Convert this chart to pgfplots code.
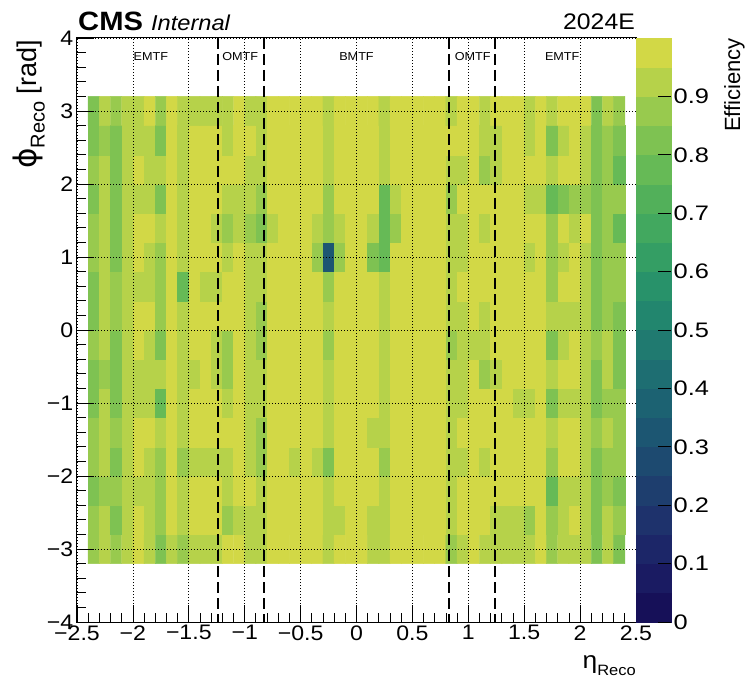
\documentclass[border=0pt]{standalone}
\usepackage{fontspec}
\setmainfont{Liberation Sans}
\newfontfamily\dejavu{DejaVu Sans}
\usepackage{pgfplots}
\usepackage{pgfplotstable}
\pgfplotsset{compat=1.18}

% ROOT-like viridis palette, 20 contour levels of 0.05
\pgfplotsset{colormap={rootvir}{
  rgb255=(22,16,88) rgb255=(26,27,98) rgb255=(28,38,104) rgb255=(30,50,108)
  rgb255=(30,62,110) rgb255=(29,74,112) rgb255=(28,86,114) rgb255=(28,98,114)
  rgb255=(30,110,114) rgb255=(32,122,112) rgb255=(34,134,110) rgb255=(40,146,106)
  rgb255=(52,158,100) rgb255=(66,168,95) rgb255=(82,176,90) rgb255=(102,186,86)
  rgb255=(126,194,82) rgb255=(152,202,78) rgb255=(182,210,74) rgb255=(210,216,70)}}

% efficiency per (eta, phi) bin, bin centres
\pgfplotstableread[row sep=\\]{
x y z\\
-2.35 -3 0.87\\-2.25 -3 0.92\\-2.15 -3 0.87\\-2.05 -3 0.92\\-1.95 -3 0.97\\-1.85 -3 0.92\\-1.75 -3 0.82\\-1.65 -3 0.92\\
-1.55 -3 0.87\\-1.45 -3 0.92\\-1.35 -3 0.92\\-1.25 -3 0.92\\-1.15 -3 0.97\\-1.05 -3 0.97\\-0.95 -3 0.92\\-0.85 -3 0.92\\
-0.75 -3 0.97\\-0.65 -3 0.97\\-0.55 -3 0.97\\-0.45 -3 0.97\\-0.35 -3 0.97\\-0.25 -3 0.92\\-0.15 -3 0.97\\-0.05 -3 0.97\\
0.05 -3 0.97\\0.15 -3 0.92\\0.25 -3 0.92\\0.35 -3 0.97\\0.45 -3 0.97\\0.55 -3 0.97\\0.65 -3 0.97\\0.75 -3 0.97\\
0.85 -3 0.87\\0.95 -3 0.92\\1.05 -3 0.97\\1.15 -3 0.92\\1.25 -3 0.92\\1.35 -3 0.92\\1.45 -3 0.92\\1.55 -3 0.92\\
1.65 -3 0.97\\1.75 -3 0.87\\1.85 -3 0.92\\1.95 -3 0.92\\2.05 -3 0.92\\2.15 -3 0.82\\2.25 -3 0.92\\2.35 -3 0.82\\
-2.35 -2.6 0.87\\-2.25 -2.6 0.92\\-2.15 -2.6 0.82\\-2.05 -2.6 0.92\\-1.95 -2.6 0.97\\-1.85 -2.6 0.92\\-1.75 -2.6 0.87\\-1.65 -2.6 0.97\\
-1.55 -2.6 0.92\\-1.45 -2.6 0.97\\-1.35 -2.6 0.97\\-1.25 -2.6 0.97\\-1.15 -2.6 0.87\\-1.05 -2.6 0.92\\-0.95 -2.6 0.92\\-0.85 -2.6 0.92\\
-0.75 -2.6 0.97\\-0.65 -2.6 0.97\\-0.55 -2.6 0.97\\-0.45 -2.6 0.97\\-0.35 -2.6 0.97\\-0.25 -2.6 0.92\\-0.15 -2.6 0.92\\-0.05 -2.6 0.97\\
0.05 -2.6 0.97\\0.15 -2.6 0.92\\0.25 -2.6 0.92\\0.35 -2.6 0.97\\0.45 -2.6 0.97\\0.55 -2.6 0.97\\0.65 -2.6 0.97\\0.75 -2.6 0.97\\
0.85 -2.6 0.92\\0.95 -2.6 0.97\\1.05 -2.6 0.97\\1.15 -2.6 0.97\\1.25 -2.6 0.92\\1.35 -2.6 0.92\\1.45 -2.6 0.92\\1.55 -2.6 0.87\\
1.65 -2.6 0.97\\1.75 -2.6 0.87\\1.85 -2.6 0.92\\1.95 -2.6 0.97\\2.05 -2.6 0.92\\2.15 -2.6 0.82\\2.25 -2.6 0.92\\2.35 -2.6 0.87\\
-2.35 -2.2 0.82\\-2.25 -2.2 0.87\\-2.15 -2.2 0.87\\-2.05 -2.2 0.92\\-1.95 -2.2 0.92\\-1.85 -2.2 0.92\\-1.75 -2.2 0.87\\-1.65 -2.2 0.97\\
-1.55 -2.2 0.92\\-1.45 -2.2 0.97\\-1.35 -2.2 0.97\\-1.25 -2.2 0.97\\-1.15 -2.2 0.92\\-1.05 -2.2 0.97\\-0.95 -2.2 0.97\\-0.85 -2.2 0.92\\
-0.75 -2.2 0.97\\-0.65 -2.2 0.97\\-0.55 -2.2 0.97\\-0.45 -2.2 0.97\\-0.35 -2.2 0.97\\-0.25 -2.2 0.92\\-0.15 -2.2 0.97\\-0.05 -2.2 0.97\\
0.05 -2.2 0.97\\0.15 -2.2 0.97\\0.25 -2.2 0.92\\0.35 -2.2 0.97\\0.45 -2.2 0.97\\0.55 -2.2 0.97\\0.65 -2.2 0.97\\0.75 -2.2 0.97\\
0.85 -2.2 0.92\\0.95 -2.2 0.97\\1.05 -2.2 0.97\\1.15 -2.2 0.97\\1.25 -2.2 0.97\\1.35 -2.2 0.97\\1.45 -2.2 0.97\\1.55 -2.2 0.97\\
1.65 -2.2 0.97\\1.75 -2.2 0.77\\1.85 -2.2 0.92\\1.95 -2.2 0.92\\2.05 -2.2 0.92\\2.15 -2.2 0.82\\2.25 -2.2 0.87\\2.35 -2.2 0.82\\
-2.35 -1.8 0.87\\-2.25 -1.8 0.92\\-2.15 -1.8 0.82\\-2.05 -1.8 0.92\\-1.95 -1.8 0.97\\-1.85 -1.8 0.92\\-1.75 -1.8 0.87\\-1.65 -1.8 0.97\\
-1.55 -1.8 0.87\\-1.45 -1.8 0.92\\-1.35 -1.8 0.92\\-1.25 -1.8 0.92\\-1.15 -1.8 0.92\\-1.05 -1.8 0.97\\-0.95 -1.8 0.92\\-0.85 -1.8 0.87\\
-0.75 -1.8 0.97\\-0.65 -1.8 0.97\\-0.55 -1.8 0.92\\-0.45 -1.8 0.97\\-0.35 -1.8 0.92\\-0.25 -1.8 0.82\\-0.15 -1.8 0.97\\-0.05 -1.8 0.97\\
0.05 -1.8 0.97\\0.15 -1.8 0.97\\0.25 -1.8 0.87\\0.35 -1.8 0.97\\0.45 -1.8 0.97\\0.55 -1.8 0.97\\0.65 -1.8 0.97\\0.75 -1.8 0.97\\
0.85 -1.8 0.92\\0.95 -1.8 0.92\\1.05 -1.8 0.97\\1.15 -1.8 0.92\\1.25 -1.8 0.97\\1.35 -1.8 0.97\\1.45 -1.8 0.97\\1.55 -1.8 0.97\\
1.65 -1.8 0.97\\1.75 -1.8 0.87\\1.85 -1.8 0.97\\1.95 -1.8 0.97\\2.05 -1.8 0.92\\2.15 -1.8 0.82\\2.25 -1.8 0.87\\2.35 -1.8 0.87\\
-2.35 -1.4 0.87\\-2.25 -1.4 0.92\\-2.15 -1.4 0.87\\-2.05 -1.4 0.92\\-1.95 -1.4 0.97\\-1.85 -1.4 0.97\\-1.75 -1.4 0.92\\-1.65 -1.4 0.97\\
-1.55 -1.4 0.92\\-1.45 -1.4 0.97\\-1.35 -1.4 0.97\\-1.25 -1.4 0.97\\-1.15 -1.4 0.97\\-1.05 -1.4 0.97\\-0.95 -1.4 0.92\\-0.85 -1.4 0.87\\
-0.75 -1.4 0.97\\-0.65 -1.4 0.97\\-0.55 -1.4 0.97\\-0.45 -1.4 0.97\\-0.35 -1.4 0.97\\-0.25 -1.4 0.92\\-0.15 -1.4 0.97\\-0.05 -1.4 0.97\\
0.05 -1.4 0.97\\0.15 -1.4 0.92\\0.25 -1.4 0.92\\0.35 -1.4 0.97\\0.45 -1.4 0.97\\0.55 -1.4 0.97\\0.65 -1.4 0.97\\0.75 -1.4 0.97\\
0.85 -1.4 0.92\\0.95 -1.4 0.97\\1.05 -1.4 0.97\\1.15 -1.4 0.97\\1.25 -1.4 0.97\\1.35 -1.4 0.97\\1.45 -1.4 0.97\\1.55 -1.4 0.97\\
1.65 -1.4 0.97\\1.75 -1.4 0.92\\1.85 -1.4 0.97\\1.95 -1.4 0.97\\2.05 -1.4 0.92\\2.15 -1.4 0.87\\2.25 -1.4 0.92\\2.35 -1.4 0.87\\
-2.35 -1 0.82\\-2.25 -1 0.92\\-2.15 -1 0.82\\-2.05 -1 0.92\\-1.95 -1 0.92\\-1.85 -1 0.92\\-1.75 -1 0.77\\-1.65 -1 0.97\\
-1.55 -1 0.92\\-1.45 -1 0.97\\-1.35 -1 0.97\\-1.25 -1 0.97\\-1.15 -1 0.92\\-1.05 -1 0.97\\-0.95 -1 0.92\\-0.85 -1 0.92\\
-0.75 -1 0.97\\-0.65 -1 0.97\\-0.55 -1 0.97\\-0.45 -1 0.97\\-0.35 -1 0.97\\-0.25 -1 0.92\\-0.15 -1 0.97\\-0.05 -1 0.97\\
0.05 -1 0.97\\0.15 -1 0.97\\0.25 -1 0.92\\0.35 -1 0.97\\0.45 -1 0.97\\0.55 -1 0.97\\0.65 -1 0.97\\0.75 -1 0.97\\
0.85 -1 0.92\\0.95 -1 0.92\\1.05 -1 0.97\\1.15 -1 0.97\\1.25 -1 0.97\\1.35 -1 0.97\\1.45 -1 0.92\\1.55 -1 0.92\\
1.65 -1 0.97\\1.75 -1 0.82\\1.85 -1 0.92\\1.95 -1 0.92\\2.05 -1 0.92\\2.15 -1 0.82\\2.25 -1 0.87\\2.35 -1 0.87\\
-2.35 -0.6 0.82\\-2.25 -0.6 0.87\\-2.15 -0.6 0.82\\-2.05 -0.6 0.92\\-1.95 -0.6 0.92\\-1.85 -0.6 0.92\\-1.75 -0.6 0.92\\-1.65 -0.6 0.97\\
-1.55 -0.6 0.92\\-1.45 -0.6 0.92\\-1.35 -0.6 0.97\\-1.25 -0.6 0.92\\-1.15 -0.6 0.87\\-1.05 -0.6 0.97\\-0.95 -0.6 0.92\\-0.85 -0.6 0.92\\
-0.75 -0.6 0.97\\-0.65 -0.6 0.97\\-0.55 -0.6 0.97\\-0.45 -0.6 0.97\\-0.35 -0.6 0.97\\-0.25 -0.6 0.92\\-0.15 -0.6 0.97\\-0.05 -0.6 0.97\\
0.05 -0.6 0.97\\0.15 -0.6 0.97\\0.25 -0.6 0.92\\0.35 -0.6 0.97\\0.45 -0.6 0.97\\0.55 -0.6 0.97\\0.65 -0.6 0.97\\0.75 -0.6 0.97\\
0.85 -0.6 0.92\\0.95 -0.6 0.92\\1.05 -0.6 0.97\\1.15 -0.6 0.87\\1.25 -0.6 0.92\\1.35 -0.6 0.97\\1.45 -0.6 0.97\\1.55 -0.6 0.97\\
1.65 -0.6 0.97\\1.75 -0.6 0.92\\1.85 -0.6 0.97\\1.95 -0.6 0.97\\2.05 -0.6 0.92\\2.15 -0.6 0.82\\2.25 -0.6 0.92\\2.35 -0.6 0.82\\
-2.35 -0.2 0.87\\-2.25 -0.2 0.92\\-2.15 -0.2 0.82\\-2.05 -0.2 0.92\\-1.95 -0.2 0.97\\-1.85 -0.2 0.92\\-1.75 -0.2 0.82\\-1.65 -0.2 0.97\\
-1.55 -0.2 0.92\\-1.45 -0.2 0.97\\-1.35 -0.2 0.97\\-1.25 -0.2 0.92\\-1.15 -0.2 0.87\\-1.05 -0.2 0.97\\-0.95 -0.2 0.92\\-0.85 -0.2 0.87\\
-0.75 -0.2 0.97\\-0.65 -0.2 0.97\\-0.55 -0.2 0.97\\-0.45 -0.2 0.97\\-0.35 -0.2 0.97\\-0.25 -0.2 0.87\\-0.15 -0.2 0.97\\-0.05 -0.2 0.97\\
0.05 -0.2 0.97\\0.15 -0.2 0.97\\0.25 -0.2 0.92\\0.35 -0.2 0.97\\0.45 -0.2 0.97\\0.55 -0.2 0.97\\0.65 -0.2 0.97\\0.75 -0.2 0.97\\
0.85 -0.2 0.87\\0.95 -0.2 0.92\\1.05 -0.2 0.92\\1.15 -0.2 0.92\\1.25 -0.2 0.97\\1.35 -0.2 0.97\\1.45 -0.2 0.97\\1.55 -0.2 0.97\\
1.65 -0.2 0.97\\1.75 -0.2 0.82\\1.85 -0.2 0.92\\1.95 -0.2 0.97\\2.05 -0.2 0.92\\2.15 -0.2 0.87\\2.25 -0.2 0.92\\2.35 -0.2 0.82\\
-2.35 0.2 0.82\\-2.25 0.2 0.92\\-2.15 0.2 0.87\\-2.05 0.2 0.92\\-1.95 0.2 0.97\\-1.85 0.2 0.97\\-1.75 0.2 0.87\\-1.65 0.2 0.97\\
-1.55 0.2 0.92\\-1.45 0.2 0.97\\-1.35 0.2 0.97\\-1.25 0.2 0.97\\-1.15 0.2 0.97\\-1.05 0.2 0.97\\-0.95 0.2 0.92\\-0.85 0.2 0.87\\
-0.75 0.2 0.97\\-0.65 0.2 0.97\\-0.55 0.2 0.97\\-0.45 0.2 0.97\\-0.35 0.2 0.97\\-0.25 0.2 0.92\\-0.15 0.2 0.97\\-0.05 0.2 0.97\\
0.05 0.2 0.97\\0.15 0.2 0.97\\0.25 0.2 0.92\\0.35 0.2 0.97\\0.45 0.2 0.97\\0.55 0.2 0.97\\0.65 0.2 0.97\\0.75 0.2 0.97\\
0.85 0.2 0.92\\0.95 0.2 0.92\\1.05 0.2 0.97\\1.15 0.2 0.92\\1.25 0.2 0.97\\1.35 0.2 0.97\\1.45 0.2 0.97\\1.55 0.2 0.97\\
1.65 0.2 0.97\\1.75 0.2 0.92\\1.85 0.2 0.92\\1.95 0.2 0.92\\2.05 0.2 0.92\\2.15 0.2 0.82\\2.25 0.2 0.87\\2.35 0.2 0.82\\
-2.35 0.6 0.82\\-2.25 0.6 0.92\\-2.15 0.6 0.87\\-2.05 0.6 0.92\\-1.95 0.6 0.92\\-1.85 0.6 0.92\\-1.75 0.6 0.87\\-1.65 0.6 0.97\\
-1.55 0.6 0.77\\-1.45 0.6 0.97\\-1.35 0.6 0.92\\-1.25 0.6 0.92\\-1.15 0.6 0.97\\-1.05 0.6 0.97\\-0.95 0.6 0.92\\-0.85 0.6 0.92\\
-0.75 0.6 0.97\\-0.65 0.6 0.97\\-0.55 0.6 0.97\\-0.45 0.6 0.97\\-0.35 0.6 0.97\\-0.25 0.6 0.87\\-0.15 0.6 0.97\\-0.05 0.6 0.97\\
0.05 0.6 0.97\\0.15 0.6 0.97\\0.25 0.6 0.92\\0.35 0.6 0.97\\0.45 0.6 0.97\\0.55 0.6 0.97\\0.65 0.6 0.97\\0.75 0.6 0.97\\
0.85 0.6 0.92\\0.95 0.6 0.97\\1.05 0.6 0.97\\1.15 0.6 0.97\\1.25 0.6 0.97\\1.35 0.6 0.97\\1.45 0.6 0.97\\1.55 0.6 0.97\\
1.65 0.6 0.97\\1.75 0.6 0.87\\1.85 0.6 0.97\\1.95 0.6 0.97\\2.05 0.6 0.92\\2.15 0.6 0.82\\2.25 0.6 0.87\\2.35 0.6 0.87\\
-2.35 1 0.87\\-2.25 1 0.92\\-2.15 1 0.82\\-2.05 1 0.92\\-1.95 1 0.97\\-1.85 1 0.92\\-1.75 1 0.87\\-1.65 1 0.97\\
-1.55 1 0.92\\-1.45 1 0.97\\-1.35 1 0.97\\-1.25 1 0.97\\-1.15 1 0.92\\-1.05 1 0.97\\-0.95 1 0.92\\-0.85 1 0.92\\
-0.75 1 0.97\\-0.65 1 0.97\\-0.55 1 0.97\\-0.45 1 0.97\\-0.35 1 0.87\\-0.25 1 0.32\\-0.15 1 0.87\\-0.05 1 0.97\\
0.05 1 0.97\\0.15 1 0.82\\0.25 1 0.77\\0.35 1 0.97\\0.45 1 0.97\\0.55 1 0.97\\0.65 1 0.97\\0.75 1 0.97\\
0.85 1 0.92\\0.95 1 0.92\\1.05 1 0.97\\1.15 1 0.97\\1.25 1 0.97\\1.35 1 0.97\\1.45 1 0.97\\1.55 1 0.92\\
1.65 1 0.97\\1.75 1 0.87\\1.85 1 0.92\\1.95 1 0.97\\2.05 1 0.92\\2.15 1 0.82\\2.25 1 0.87\\2.35 1 0.87\\
-2.35 1.4 0.87\\-2.25 1.4 0.92\\-2.15 1.4 0.82\\-2.05 1.4 0.92\\-1.95 1.4 0.97\\-1.85 1.4 0.97\\-1.75 1.4 0.92\\-1.65 1.4 0.97\\
-1.55 1.4 0.92\\-1.45 1.4 0.97\\-1.35 1.4 0.97\\-1.25 1.4 0.92\\-1.15 1.4 0.87\\-1.05 1.4 0.92\\-0.95 1.4 0.87\\-0.85 1.4 0.82\\
-0.75 1.4 0.92\\-0.65 1.4 0.97\\-0.55 1.4 0.97\\-0.45 1.4 0.97\\-0.35 1.4 0.92\\-0.25 1.4 0.87\\-0.15 1.4 0.92\\-0.05 1.4 0.97\\
0.05 1.4 0.97\\0.15 1.4 0.92\\0.25 1.4 0.77\\0.35 1.4 0.87\\0.45 1.4 0.97\\0.55 1.4 0.97\\0.65 1.4 0.97\\0.75 1.4 0.97\\
0.85 1.4 0.92\\0.95 1.4 0.92\\1.05 1.4 0.97\\1.15 1.4 0.92\\1.25 1.4 0.97\\1.35 1.4 0.97\\1.45 1.4 0.97\\1.55 1.4 0.97\\
1.65 1.4 0.97\\1.75 1.4 0.87\\1.85 1.4 0.97\\1.95 1.4 0.92\\2.05 1.4 0.97\\2.15 1.4 0.82\\2.25 1.4 0.87\\2.35 1.4 0.77\\
-2.35 1.8 0.82\\-2.25 1.8 0.92\\-2.15 1.8 0.82\\-2.05 1.8 0.92\\-1.95 1.8 0.92\\-1.85 1.8 0.92\\-1.75 1.8 0.82\\-1.65 1.8 0.97\\
-1.55 1.8 0.92\\-1.45 1.8 0.97\\-1.35 1.8 0.97\\-1.25 1.8 0.97\\-1.15 1.8 0.92\\-1.05 1.8 0.92\\-0.95 1.8 0.92\\-0.85 1.8 0.87\\
-0.75 1.8 0.97\\-0.65 1.8 0.97\\-0.55 1.8 0.97\\-0.45 1.8 0.97\\-0.35 1.8 0.97\\-0.25 1.8 0.87\\-0.15 1.8 0.97\\-0.05 1.8 0.97\\
0.05 1.8 0.97\\0.15 1.8 0.97\\0.25 1.8 0.77\\0.35 1.8 0.92\\0.45 1.8 0.97\\0.55 1.8 0.97\\0.65 1.8 0.97\\0.75 1.8 0.97\\
0.85 1.8 0.87\\0.95 1.8 0.97\\1.05 1.8 0.97\\1.15 1.8 0.97\\1.25 1.8 0.97\\1.35 1.8 0.97\\1.45 1.8 0.97\\1.55 1.8 0.92\\
1.65 1.8 0.92\\1.75 1.8 0.77\\1.85 1.8 0.82\\1.95 1.8 0.87\\2.05 1.8 0.87\\2.15 1.8 0.82\\2.25 1.8 0.87\\2.35 1.8 0.87\\
-2.35 2.2 0.87\\-2.25 2.2 0.92\\-2.15 2.2 0.82\\-2.05 2.2 0.92\\-1.95 2.2 0.97\\-1.85 2.2 0.92\\-1.75 2.2 0.92\\-1.65 2.2 0.97\\
-1.55 2.2 0.92\\-1.45 2.2 0.97\\-1.35 2.2 0.97\\-1.25 2.2 0.97\\-1.15 2.2 0.97\\-1.05 2.2 0.97\\-0.95 2.2 0.92\\-0.85 2.2 0.92\\
-0.75 2.2 0.97\\-0.65 2.2 0.97\\-0.55 2.2 0.97\\-0.45 2.2 0.97\\-0.35 2.2 0.97\\-0.25 2.2 0.92\\-0.15 2.2 0.97\\-0.05 2.2 0.97\\
0.05 2.2 0.97\\0.15 2.2 0.97\\0.25 2.2 0.92\\0.35 2.2 0.97\\0.45 2.2 0.97\\0.55 2.2 0.97\\0.65 2.2 0.97\\0.75 2.2 0.97\\
0.85 2.2 0.92\\0.95 2.2 0.92\\1.05 2.2 0.97\\1.15 2.2 0.87\\1.25 2.2 0.92\\1.35 2.2 0.97\\1.45 2.2 0.97\\1.55 2.2 0.97\\
1.65 2.2 0.97\\1.75 2.2 0.92\\1.85 2.2 0.97\\1.95 2.2 0.97\\2.05 2.2 0.92\\2.15 2.2 0.82\\2.25 2.2 0.87\\2.35 2.2 0.77\\
-2.35 2.6 0.82\\-2.25 2.6 0.87\\-2.15 2.6 0.82\\-2.05 2.6 0.92\\-1.95 2.6 0.92\\-1.85 2.6 0.92\\-1.75 2.6 0.82\\-1.65 2.6 0.97\\
-1.55 2.6 0.92\\-1.45 2.6 0.97\\-1.35 2.6 0.97\\-1.25 2.6 0.97\\-1.15 2.6 0.92\\-1.05 2.6 0.97\\-0.95 2.6 0.97\\-0.85 2.6 0.92\\
-0.75 2.6 0.97\\-0.65 2.6 0.97\\-0.55 2.6 0.97\\-0.45 2.6 0.97\\-0.35 2.6 0.97\\-0.25 2.6 0.92\\-0.15 2.6 0.97\\-0.05 2.6 0.97\\
0.05 2.6 0.97\\0.15 2.6 0.97\\0.25 2.6 0.92\\0.35 2.6 0.97\\0.45 2.6 0.97\\0.55 2.6 0.97\\0.65 2.6 0.97\\0.75 2.6 0.97\\
0.85 2.6 0.97\\0.95 2.6 0.97\\1.05 2.6 0.97\\1.15 2.6 0.92\\1.25 2.6 0.92\\1.35 2.6 0.97\\1.45 2.6 0.97\\1.55 2.6 0.92\\
1.65 2.6 0.97\\1.75 2.6 0.82\\1.85 2.6 0.92\\1.95 2.6 0.97\\2.05 2.6 0.92\\2.15 2.6 0.82\\2.25 2.6 0.87\\2.35 2.6 0.82\\
-2.35 3 0.82\\-2.25 3 0.92\\-2.15 3 0.87\\-2.05 3 0.92\\-1.95 3 0.92\\-1.85 3 0.97\\-1.75 3 0.87\\-1.65 3 0.97\\
-1.55 3 0.92\\-1.45 3 0.92\\-1.35 3 0.92\\-1.25 3 0.92\\-1.15 3 0.92\\-1.05 3 0.97\\-0.95 3 0.92\\-0.85 3 0.92\\
-0.75 3 0.97\\-0.65 3 0.97\\-0.55 3 0.97\\-0.45 3 0.97\\-0.35 3 0.97\\-0.25 3 0.92\\-0.15 3 0.97\\-0.05 3 0.97\\
0.05 3 0.97\\0.15 3 0.97\\0.25 3 0.92\\0.35 3 0.97\\0.45 3 0.97\\0.55 3 0.97\\0.65 3 0.97\\0.75 3 0.97\\
0.85 3 0.92\\0.95 3 0.97\\1.05 3 0.97\\1.15 3 0.92\\1.25 3 0.97\\1.35 3 0.97\\1.45 3 0.97\\1.55 3 0.92\\
1.65 3 0.97\\1.75 3 0.92\\1.85 3 0.97\\1.95 3 0.97\\2.05 3 0.97\\2.15 3 0.82\\2.25 3 0.92\\2.35 3 0.87\\
}\effmap

\newcommand{\tickfont}{\fontsize{21}{24}\selectfont}

\begin{document}
\begin{tikzpicture}
\useasboundingbox (-77pt,-58pt) rectangle (669pt,622pt);
\begin{axis}[
  at={(0,0)}, anchor=south west,
  scale only axis, width=559pt, height=584pt,
  xmin=-2.5, xmax=2.5, ymin=-4, ymax=4,
  xtick={-2.5,-2,-1.5,-1,-0.5,0,0.5,1,1.5,2,2.5},
  xticklabels={−2.5,−2,−1.5,−1,−0.5,0,0.5,1,1.5,2,2.5},
  ytick={-4,-3,-2,-1,0,1,2,3,4},
  yticklabels={−4,−3,−2,−1,0,1,2,3,4},
  minor x tick num=4, minor y tick num=4,
  xtick pos=bottom, ytick pos=left,
  tick align=inside,
  major tick length=17pt, minor tick length=9pt,
  tick style={black, line width=0.8pt},
  tick label style={font=\tickfont, xscale=1.1},
  grid=major,
  major grid style={black, line width=0.7pt, dash pattern=on 1pt off 2pt},
  axis on top,
  axis line style={line width=1pt},
  colormap name=rootvir,
  colormap access=piecewise constant,
  point meta min=0, point meta max=1,
  colorbar,
  colorbar style={
    at={(1,1)}, anchor=north west, xshift=2pt,
    width=35pt,
    ytick={0,0.1,0.2,0.3,0.4,0.5,0.6,0.7,0.8,0.9},
    yticklabels={0,0.1,0.2,0.3,0.4,0.5,0.6,0.7,0.8,0.9},
    ytick pos=right, yticklabel pos=right,
    tick align=inside, major tick length=13pt, minor tick num=0,
    tick style={black, line width=0.8pt},
    yticklabel style={font=\tickfont, xscale=1.1, inner sep=2pt},
    axis line style={draw=none},
  },
]
\addplot[matrix plot*, mesh/cols=48, point meta=explicit] table[x=x, y=y, meta=z] {\effmap};

\draw[black, line width=2.4pt, dash pattern=on 11pt off 5pt] (axis cs:-1.24,4) -- (axis cs:-1.24,-4);
\draw[black, line width=2.4pt, dash pattern=on 11pt off 5pt] (axis cs:-0.83,4) -- (axis cs:-0.83,-4);
\draw[black, line width=2.4pt, dash pattern=on 11pt off 5pt] (axis cs:0.83,4) -- (axis cs:0.83,-4);
\draw[black, line width=2.4pt, dash pattern=on 11pt off 5pt] (axis cs:1.24,4) -- (axis cs:1.24,-4);

\node[anchor=base, inner sep=0pt, xscale=1.1, font=\fontsize{11.5}{13}\selectfont] at (axis cs:-1.84,3.69) {EMTF};
\node[anchor=base, inner sep=0pt, xscale=1.1, font=\fontsize{11.5}{13}\selectfont] at (axis cs:-1.04,3.69) {OMTF};
\node[anchor=base, inner sep=0pt, xscale=1.1, font=\fontsize{11.5}{13}\selectfont] at (axis cs:0,3.69) {BMTF};
\node[anchor=base, inner sep=0pt, xscale=1.1, font=\fontsize{11.5}{13}\selectfont] at (axis cs:1.04,3.69) {OMTF};
\node[anchor=base, inner sep=0pt, xscale=1.1, font=\fontsize{11.5}{13}\selectfont] at (axis cs:1.84,3.69) {EMTF};
\end{axis}

\node[anchor=base west, inner sep=0pt, xscale=1.1] at (1pt,591pt)
  {\fontsize{26.5}{30}\selectfont\bfseries CMS\ \fontsize{21.5}{26}\selectfont\mdseries\itshape Internal};
\node[anchor=base east, inner sep=0pt, xscale=1.1] at (558pt,592pt)
  {\fontsize{22.5}{26}\selectfont 2024E};
\node[rotate=90, anchor=south east, inner sep=0pt] at (-32pt,582pt)
  {\fontsize{27}{30}\selectfont{\dejavu\fontsize{31}{32}\selectfont ϕ}\raisebox{-0.3em}{\fontsize{20}{23}\selectfont Reco} [rad]};
\node[anchor=base east, inner sep=0pt, xscale=1.1] at (559pt,-46pt)
  {\fontsize{24}{28}\selectfont η\raisebox{-0.3em}{\fontsize{15}{18}\selectfont Reco}};
\node[rotate=90, anchor=south east, inner sep=0pt] at (668pt,584pt)
  {\fontsize{22}{25}\selectfont Efficiency};
\end{tikzpicture}
\end{document}
